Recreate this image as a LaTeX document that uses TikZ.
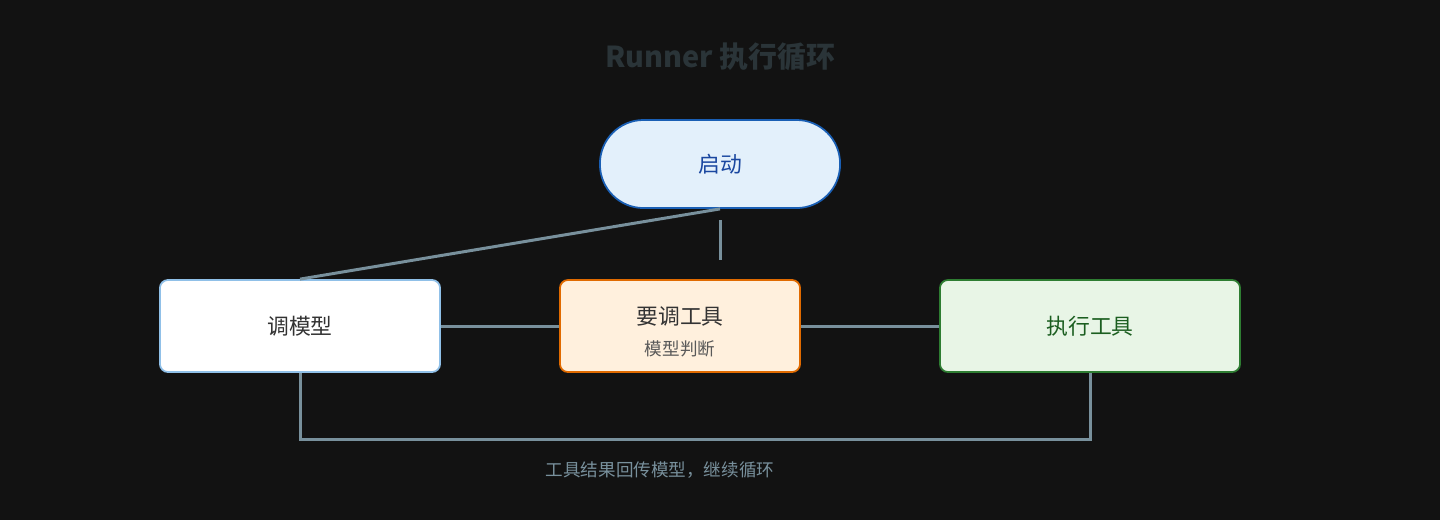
\documentclass[tikz,border=0pt]{standalone}
\usepackage{fontspec}
\setmainfont{Noto Sans CJK SC}
\usetikzlibrary{positioning}
\definecolor{bgc}{HTML}{121212}
\definecolor{titlec}{HTML}{2A3438}
\definecolor{linec}{HTML}{78909C}
\definecolor{startfill}{HTML}{E3F0FB}
\definecolor{startdraw}{HTML}{1A5FB4}
\definecolor{starttext}{HTML}{1A47A0}
\definecolor{modeldraw}{HTML}{90C0E8}
\definecolor{askfill}{HTML}{FFF0DD}
\definecolor{askdraw}{HTML}{E06A00}
\definecolor{runfill}{HTML}{E8F5E6}
\definecolor{rundraw}{HTML}{2E7D32}
\definecolor{runtext}{HTML}{1B5E20}
\tikzset{
  box/.style={draw, line width=0.5pt, rounded corners=2.3pt, inner sep=0pt},
  conn/.style={draw=linec, line width=0.85pt},
}
\begin{document}
\begin{tikzpicture}[x=0.01cm, y=-0.01cm]
\fill[bgc] (0,0) rectangle (1440,520);
\node (title) at (720,57) [text=titlec, font=\fontsize{8.2}{9}\selectfont\bfseries] {Runner 执行循环};
\node (start) [box, draw=startdraw, fill=startfill, rounded corners=12.4pt,
  minimum width=2.4cm, minimum height=0.88cm, text=starttext,
  font=\fontsize{6.2}{7}\selectfont] at (720,164) {启动};
\node (model) [box, draw=modeldraw, fill=white, minimum width=2.8cm,
  minimum height=0.92cm, text=black!80, font=\fontsize{6.2}{7}\selectfont] at (300,326) {调模型};
\node (ask) [box, draw=askdraw, fill=askfill, minimum width=2.4cm,
  minimum height=0.92cm] at (680,326) {};
\node (asklbl) [text=black!80, font=\fontsize{6.2}{7}\selectfont] at (680,316) {要调工具};
\node (asksub) [text=black!65, font=\fontsize{5}{6}\selectfont] at (680,349) {模型判断};
\node (run) [box, draw=rundraw, fill=runfill, minimum width=3cm,
  minimum height=0.92cm, text=runtext, font=\fontsize{6.2}{7}\selectfont] at (1090,326) {执行工具};
\coordinate (stub1) at (720,220);
\coordinate (stub2) at (720,260);
\coordinate (loopL) at (300,439);
\coordinate (loopR) at (1090,439);
\draw[conn] (start.south) -- (model.north);
\draw[conn] (stub1) -- (stub2);
\draw[conn] (model.east) -- (ask.west);
\draw[conn] (ask.east) -- (run.west);
\draw[conn] (model.south) -- (loopL) -- (loopR) -- (run.south);
\node (loopnote) [text=linec, font=\fontsize{5}{6}\selectfont] at (660,470) {工具结果回传模型，继续循环};
\end{tikzpicture}
\end{document}
